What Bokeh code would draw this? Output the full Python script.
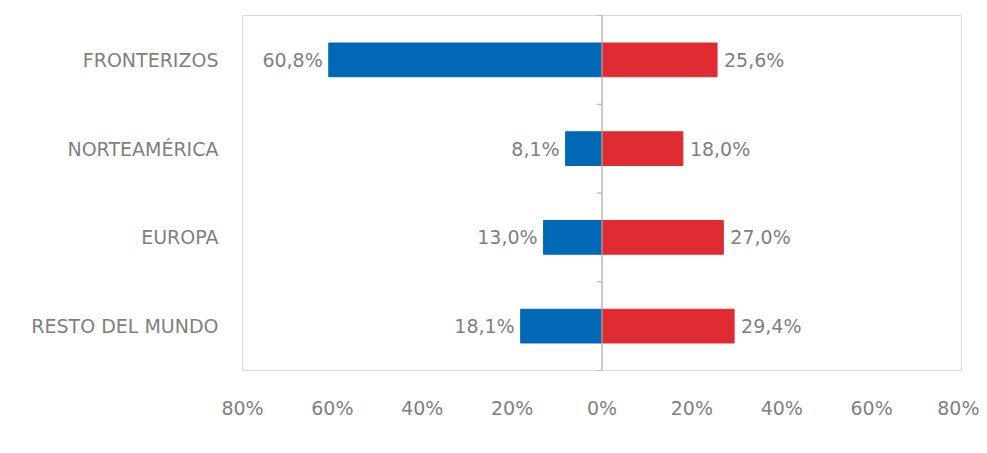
from bokeh.plotting import figure
from bokeh.models import Range1d, FixedTicker, Legend, LegendItem, ColumnDataSource, LabelSet, Span
from bokeh.core.properties import value
from bokeh.embed import file_html
from bokeh.resources import INLINE

categories = ["FRONTERIZOS", "NORTEAMÉRICA", "EUROPA", "RESTO DEL MUNDO"]
llegadas = [60.8, 8.1, 13.0, 18.1]
divisas = [25.6, 18.0, 27.0, 29.4]
x_ticks = [-80, -60, -40, -20, 0, 20, 40, 60, 80]
series_names = ["Nº de Llegadas", "Ingreso de Divisas (Dólares)"]

BLUE = "#0068b5"
RED = "#df2c33"
GRAY = "#7f7f7f"
FONT = "DejaVu Sans"
FS = "19px"

n = len(categories)
ys = [n - 1 - i + 0.5 for i in range(n)]

def fmt(v):
    return f"{v:.1f}".replace(".", ",") + "%"

src_l = ColumnDataSource(dict(y=ys, left=[-v for v in llegadas], right=[0] * n,
                              lab=[fmt(v) for v in llegadas]))
src_r = ColumnDataSource(dict(y=ys, left=[0] * n, right=divisas,
                              lab=[fmt(v) for v in divisas]))

p = figure(frame_width=719, frame_height=355, x_range=Range1d(-80, 80), y_range=Range1d(0, n),
           output_backend="svg", toolbar_location=None,
           min_border_left=242, min_border_right=18, min_border_top=15, min_border_bottom=0)
p.background_fill_color = "white"
p.border_fill_color = "white"
p.outline_line_color = "#d9d9d9"
p.outline_line_width = 1
p.xgrid.visible = False
p.ygrid.visible = False

r1 = p.hbar(y="y", left="left", right="right", height=0.38, color=BLUE, source=src_l)
r2 = p.hbar(y="y", left="left", right="right", height=0.38, color=RED, source=src_r)

# central axis with ticks at category boundaries
p.add_layout(Span(location=0, dimension="height", line_color="#a6a6a6", line_width=1.2))
bounds = list(range(n + 1))
p.segment(x0=[-1.1] * len(bounds), x1=[0] * len(bounds), y0=bounds, y1=bounds,
          line_color="#a6a6a6", line_width=1.2)

p.add_layout(LabelSet(x="left", y="y", text="lab", source=src_l, text_align="right",
                      text_baseline="middle", x_offset=-6, text_color=GRAY,
                      text_font=value(FONT), text_font_size=FS))
p.add_layout(LabelSet(x="right", y="y", text="lab", source=src_r, text_align="left",
                      text_baseline="middle", x_offset=7, text_color=GRAY,
                      text_font=value(FONT), text_font_size=FS))

# x axis
p.xaxis.ticker = FixedTicker(ticks=x_ticks)
p.xaxis.major_label_overrides = {t: f"{abs(t)}%" for t in x_ticks}
p.xaxis.axis_line_color = None
p.xaxis.major_tick_line_color = None
p.xaxis.minor_tick_line_color = None
p.xaxis.major_label_standoff = 20
p.xaxis.major_label_text_font = FONT
p.xaxis.major_label_text_font_size = FS
p.xaxis.major_label_text_color = GRAY

# y axis (category names)
p.yaxis.ticker = FixedTicker(ticks=ys)
p.yaxis.major_label_overrides = {y: c for y, c in zip(ys, categories)}
p.yaxis.axis_line_color = None
p.yaxis.major_tick_line_color = None
p.yaxis.minor_tick_line_color = None
p.yaxis.major_label_standoff = 18
p.yaxis.major_label_text_font = FONT
p.yaxis.major_label_text_font_size = FS
p.yaxis.major_label_text_color = GRAY

legend = Legend(items=[LegendItem(label=series_names[0], renderers=[r1]),
                       LegendItem(label=series_names[1], renderers=[r2])],
                orientation="horizontal", location=(37, 0),
                glyph_width=11, glyph_height=11, spacing=77, label_standoff=5,
                label_text_font=FONT, label_text_font_size=FS, label_text_color=GRAY,
                border_line_color=None, background_fill_alpha=0, padding=0, margin=0)
p.add_layout(legend, "below")

open("out.html", "w").write(file_html(p, INLINE))
